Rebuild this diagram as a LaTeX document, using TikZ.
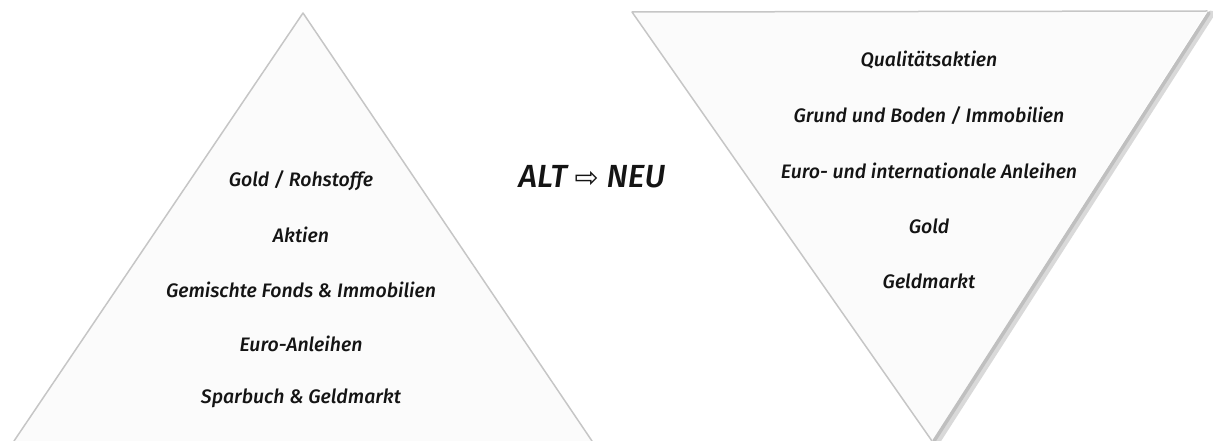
\documentclass[tikz,border=0pt]{standalone}
\usepackage{fontspec}
\setmainfont{Fira Sans Medium}
\newfontfamily\arrowfont{DejaVu Sans}
\begin{document}
\begin{tikzpicture}[x=1pt, y=-1pt, line join=round, line cap=round,
		itemtext/.style={font=\fontsize{19.5}{22}\selectfont\itshape, text=black!92, inner sep=0pt},
		rim/.style={draw=gray!45, line width=1.5pt}]
	\def\W{1213} \def\H{441}
	\useasboundingbox (0,0) rectangle (\W,\H);
	\clip (0,0) rectangle (\W,\H);
	% old pyramid
	\fill[gray!3] (303,13) -- (14,441) -- (592,441) -- cycle;
	\draw[rim] (14,441) -- (303,13) -- (592,441);
	% new pyramid, upside down
	\fill[gray!3] (632,12) -- (1207,11) -- (932,441) -- cycle;
	\draw[gray!30, line width=7pt] (1211,14) -- (937,441);
	\draw[gray!50, line width=3.5pt] (1209,13) -- (934,441);
	\draw[rim] (932,441) -- (632,12) -- (1207,11);
	\foreach \t [count=\i] in {Gold / Rohstoffe, Aktien, Gemischte Fonds \& Immobilien, Euro-Anleihen, Sparbuch \& Geldmarkt}
		\node[itemtext] (alt\i) at (301,{181+54.25*(\i-1)}) {\t};
	\foreach \t [count=\i] in {Qualitätsaktien, Grund und Boden / Immobilien, Euro- und internationale Anleihen, Gold, Geldmarkt}
		\node[itemtext] (neu\i) at (929,{60+55.4*(\i-1)}) {\t};
	\node[itemtext, font=\fontsize{32}{36}\selectfont\itshape] (title) at (592,177) {ALT {\arrowfont\scalebox{0.9}{⇨}} NEU};
\end{tikzpicture}
\end{document}
